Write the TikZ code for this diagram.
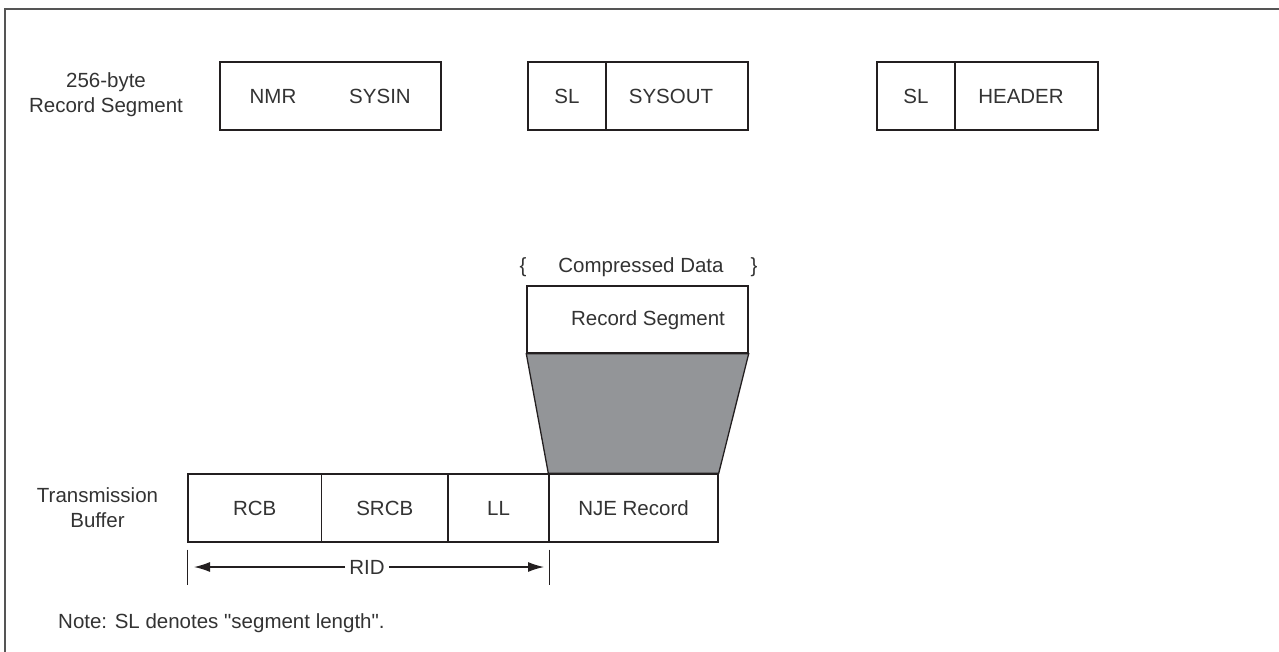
\documentclass[tikz,border=0pt]{standalone}
\usepackage{fontspec}
\setmainfont{Liberation Sans}[Ligatures=TeXOff]
\usetikzlibrary{arrows.meta,calc}
\definecolor{lc}{HTML}{231F20}
\definecolor{tc}{HTML}{333333}
\definecolor{fc}{HTML}{555555}
\definecolor{shade}{HTML}{939598}
\begin{document}
\begin{tikzpicture}[x=1pt,y=-1pt,
  every node/.style={font=\fontsize{20.5}{25}\selectfont, text=tc, inner sep=0pt},
  cell/.style={draw=lc, line width=1.4pt, minimum height=68pt, fill=white},
  txt/.style={align=center},
  conn/.style={draw=lc, line width=1.3pt}
]
\useasboundingbox (0,0) rectangle (1279,652);
\clip (0,0) rectangle (1279,652);
\draw[fc, line width=1.5pt] (5,9) rectangle (1300,680);

% top row
\node[txt] (lab1) at (106,95) {256-byte\\Record Segment};
\node[cell, minimum width=221pt] (b1) at (330.5,96) {};
\node (nmr) at (273,96) {NMR};
\node (sysin) at (380,96) {SYSIN};

\node[cell, minimum width=78pt] (sl1) at (567,96) {SL};
\node[cell, minimum width=142pt] (sysout) at (677,96) {};
\node (sysoutt) at (671,96) {SYSOUT};

\node[cell, minimum width=78pt] (sl2) at (916,96) {SL};
\node[cell, minimum width=143pt] (header) at (1026.5,96) {};
\node (headert) at (1021,96) {HEADER};

% compressed data
\node (lb) at (523,267) {\{};
\node (cd) at (641,267) {Compressed Data};
\node (rb) at (754,267) {\}};

% buffer row
\node[txt] (lab2) at (97.5,508) {Transmission\\Buffer};
\node[cell, minimum width=133.5pt] (rcb) at (254.75,508) {RCB};
\node[cell, minimum width=126.5pt] (srcb) at (384.75,508) {SRCB};
\node[cell, minimum width=101pt] (ll) at (498.5,508) {LL};
\node[cell, minimum width=169pt] (nje) at (633.5,508) {NJE Record};

% record segment + trapezoid
\node[cell, minimum width=221pt, minimum height=67pt] (rs) at (637.5,319.5) {};
\node (rst) at (648,320) {Record Segment};
\draw[conn, fill=shade] (rs.south west) -- (rs.south east) -- (nje.north east) -- (nje.north west) -- cycle;

% RID
\draw[conn] ($(rcb.south west)+(0,7)$) -- ++(0,35);
\draw[conn] ($(ll.south east)+(0,7)$) -- ++(0,35);
\node[inner sep=4pt] (rid) at (367,567) {RID};
\coordinate (ridl) at (194,567);
\coordinate (ridr) at (544,567);
\draw[conn, -{Latex[length=16pt,width=10pt]}] (rid.west) -- (ridl);
\draw[conn, -{Latex[length=16pt,width=10pt]}] (rid.east) -- (ridr);

\node[anchor=west] (note) at (58,623) {Note: SL denotes "segment length".};
\end{tikzpicture}
\end{document}
